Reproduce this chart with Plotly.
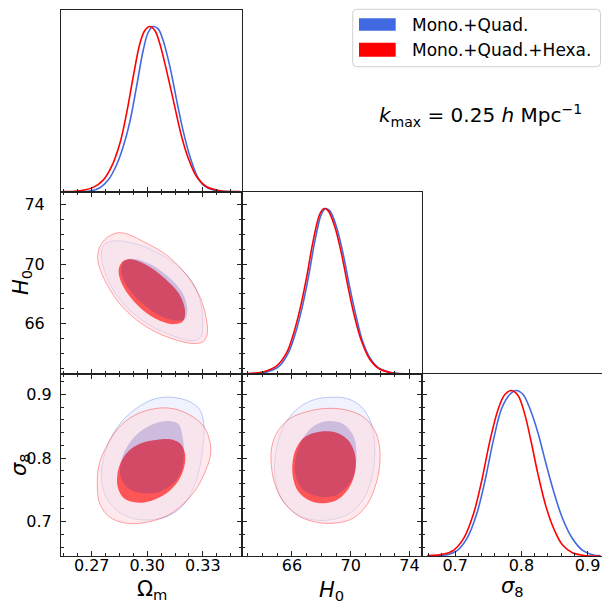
import plotly.graph_objects as go

# ---------------- data ----------------
# 1D marginals (normalised density)
om_blue_x = [0.2546, 0.2699, 0.2744, 0.2789, 0.2834, 0.2870, 0.2906, 0.2942, 0.2978, 0.3005, 0.3032,
             0.3059, 0.3086, 0.3123, 0.3159, 0.3195, 0.3231, 0.3267, 0.3303, 0.3357, 0.3447, 0.3510]
om_blue_p = [0.0, 0.008, 0.026, 0.072, 0.163, 0.273, 0.424, 0.635, 0.855, 0.964, 1.0,
             0.986, 0.916, 0.755, 0.554, 0.365, 0.213, 0.102, 0.042, 0.012, 0.002, 0.0]
om_red_x = [0.2546, 0.2636, 0.2708, 0.2762, 0.2807, 0.2852, 0.2888, 0.2924, 0.2960, 0.2987, 0.3014,
            0.3041, 0.3068, 0.3104, 0.3141, 0.3186, 0.3222, 0.3267, 0.3321, 0.3393, 0.3501]
om_red_p = [0.002, 0.008, 0.028, 0.072, 0.153, 0.293, 0.474, 0.695, 0.896, 0.976, 1.0,
            0.976, 0.896, 0.735, 0.554, 0.334, 0.203, 0.092, 0.032, 0.008, 0.002]

h0_blue_x = [62.95, 64.19, 65.09, 65.77, 66.22, 66.67, 67.12, 67.57, 68.02, 68.31, 68.58,
             69.03, 69.48, 69.93, 70.38, 70.79, 71.28, 71.85, 72.64, 74.21]
h0_blue_p = [0.0, 0.010, 0.044, 0.131, 0.242, 0.394, 0.586, 0.808, 0.970, 1.0, 0.986,
             0.889, 0.727, 0.525, 0.343, 0.202, 0.101, 0.040, 0.010, 0.0]
h0_red_x = [62.95, 64.08, 64.98, 65.65, 66.10, 66.55, 67.00, 67.45, 67.91, 68.20, 68.47,
            68.92, 69.37, 69.82, 70.27, 70.72, 71.28, 71.96, 72.86, 74.21]
h0_red_p = [0.002, 0.014, 0.051, 0.131, 0.242, 0.394, 0.586, 0.808, 0.970, 1.0, 0.986,
            0.889, 0.727, 0.525, 0.343, 0.202, 0.091, 0.030, 0.006, 0.0]

s8_blue_x = [0.6582, 0.6881, 0.7030, 0.7179, 0.7328, 0.7453, 0.7577, 0.7701, 0.7826, 0.7925,
             0.8025, 0.8124, 0.8249, 0.8373, 0.8498, 0.8622, 0.8771, 0.8920, 0.9070, 0.9194]
s8_blue_p = [0.0, 0.008, 0.032, 0.106, 0.257, 0.458, 0.699, 0.890, 0.976, 1.0,
             0.976, 0.896, 0.747, 0.556, 0.376, 0.227, 0.106, 0.036, 0.008, 0.002]
s8_red_x = [0.6582, 0.6831, 0.6980, 0.7129, 0.7279, 0.7403, 0.7527, 0.7652, 0.7751, 0.7851,
            0.7950, 0.8050, 0.8149, 0.8249, 0.8373, 0.8498, 0.8622, 0.8771, 0.8970, 0.9194]
s8_red_p = [0.002, 0.012, 0.036, 0.106, 0.257, 0.458, 0.699, 0.890, 0.976, 1.0,
            0.970, 0.859, 0.689, 0.498, 0.297, 0.157, 0.066, 0.020, 0.002, 0.0]

# 2D contours: Omega_m vs H0
omh0_blue95_x = [0.2753, 0.2771, 0.2825, 0.2924, 0.3032, 0.3159, 0.3249, 0.3290, 0.3299, 0.3294, 0.3267,
                 0.3213, 0.3104, 0.2996, 0.2888, 0.2807, 0.2762]
omh0_blue95_y = [70.84, 71.36, 71.56, 71.41, 70.91, 69.93, 68.68, 67.32, 65.96, 65.17, 64.88,
                 64.88, 65.33, 66.01, 67.10, 68.46, 69.82]
omh0_blue68_x = [0.2861, 0.2885, 0.2924, 0.3014, 0.3114, 0.3191, 0.3216, 0.3205, 0.3168, 0.3086,
                 0.2987, 0.2903, 0.2866]
omh0_blue68_y = [69.86, 70.27, 70.36, 70.00, 69.14, 68.05, 66.98, 66.30, 66.19, 66.42,
                 67.21, 68.28, 69.14]
omh0_red95_x = [0.2732, 0.2744, 0.2780, 0.2834, 0.2888, 0.2978, 0.3104, 0.3213, 0.3285, 0.3321, 0.3324,
                0.3303, 0.3249, 0.3159, 0.3050, 0.2942, 0.2852, 0.2780, 0.2741]
omh0_red95_y = [70.50, 71.18, 71.75, 72.09, 72.04, 71.52, 70.61, 69.25, 67.78, 66.19, 65.28,
                64.78, 64.65, 64.88, 65.40, 66.24, 67.32, 68.68, 69.82]
omh0_red68_x = [0.2847, 0.2870, 0.2915, 0.2996, 0.3095, 0.3177, 0.3204, 0.3195, 0.3150, 0.3068,
                0.2969, 0.2888, 0.2852]
omh0_red68_y = [69.71, 70.20, 70.32, 69.93, 69.02, 67.89, 66.87, 66.19, 65.96, 66.19,
                66.98, 68.12, 69.02]

# 2D contours: Omega_m vs sigma8
oms8_blue95_x = [0.3141, 0.3231, 0.3285, 0.3306, 0.3303, 0.3285, 0.3249, 0.3195, 0.3114, 0.3014,
                 0.2924, 0.2843, 0.2780, 0.2753, 0.2762, 0.2798, 0.2870, 0.2960, 0.3050]
oms8_blue95_y = [0.8952, 0.8884, 0.8754, 0.8518, 0.8230, 0.7864, 0.7524, 0.7262, 0.7089, 0.7027,
                 0.7048, 0.7158, 0.7367, 0.7655, 0.7969, 0.8283, 0.8597, 0.8816, 0.8937]
oms8_blue68_x = [0.3114, 0.3168, 0.3191, 0.3198, 0.3186, 0.3141, 0.3068, 0.2978, 0.2897, 0.2856,
                 0.2861, 0.2897, 0.2960, 0.3041]
oms8_blue68_y = [0.8581, 0.8534, 0.8335, 0.8073, 0.7812, 0.7602, 0.7471, 0.7445, 0.7524, 0.7707,
                 0.7969, 0.8204, 0.8413, 0.8544]
oms8_red95_x = [0.3050, 0.3141, 0.3231, 0.3306, 0.3339, 0.3342, 0.3317, 0.3267, 0.3195, 0.3104,
                0.2996, 0.2888, 0.2798, 0.2744, 0.2730, 0.2739, 0.2777, 0.2843, 0.2933]
oms8_red95_y = [0.8780, 0.8774, 0.8675, 0.8492, 0.8256, 0.8047, 0.7812, 0.7524, 0.7278, 0.7089,
                0.6990, 0.6974, 0.7069, 0.7278, 0.7576, 0.7890, 0.8167, 0.8466, 0.8675]
oms8_red68_x = [0.3050, 0.3123, 0.3177, 0.3204, 0.3200, 0.3168, 0.3104, 0.3023, 0.2942, 0.2874,
                0.2840, 0.2843, 0.2874, 0.2924, 0.2987]
oms8_red68_y = [0.8283, 0.8293, 0.8230, 0.8073, 0.7864, 0.7644, 0.7445, 0.7330, 0.7299, 0.7367,
                0.7550, 0.7812, 0.8021, 0.8167, 0.8251]

# 2D contours: H0 vs sigma8
h0s8_blue95_x = [68.47, 69.71, 70.72, 71.40, 71.62, 71.62, 71.40, 70.83, 69.93, 68.58, 67.23,
                 66.10, 65.20, 64.82, 64.98, 65.54, 66.55, 67.57]
h0s8_blue95_y = [0.8952, 0.8937, 0.8806, 0.8544, 0.8230, 0.7969, 0.7655, 0.7341, 0.7131, 0.7027, 0.7037,
                 0.7158, 0.7393, 0.7759, 0.8178, 0.8544, 0.8806, 0.8921]
h0s8_blue68_x = [68.54, 69.48, 70.16, 70.38, 70.34, 69.93, 69.03, 67.91, 66.78, 66.22, 66.33, 66.89, 67.68]
h0s8_blue68_y = [0.8581, 0.8534, 0.8361, 0.8126, 0.7864, 0.7602, 0.7419, 0.7393, 0.7498, 0.7759,
                 0.8073, 0.8361, 0.8529]
h0s8_red95_x = [65.88, 67.00, 68.36, 69.71, 70.83, 71.62, 71.96, 71.96, 71.73, 71.17, 70.16, 68.81,
                67.45, 66.33, 65.43, 64.82, 64.57, 64.68, 65.09]
h0s8_red95_y = [0.8623, 0.8727, 0.8780, 0.8754, 0.8649, 0.8440, 0.8178, 0.7864, 0.7602, 0.7288, 0.7053,
                0.6974, 0.7001, 0.7105, 0.7314, 0.7602, 0.7969, 0.8230, 0.8440]
h0s8_red68_x = [67.91, 69.03, 69.82, 70.27, 70.32, 69.93, 69.14, 68.24, 67.23, 66.44, 66.06, 66.10,
                66.55, 67.12]
h0s8_red68_y = [0.8413, 0.8398, 0.8283, 0.8073, 0.7812, 0.7550, 0.7351, 0.7288, 0.7330, 0.7471,
                0.7707, 0.8021, 0.8256, 0.8361]

labels = ["Mono.+Quad.", "Mono.+Quad.+Hexa."]
om_range = [0.2534, 0.3512]
h0_range = [62.6, 74.85]
s8_range_v = [0.646, 0.932]
s8_range_h = [0.650, 0.921]
dens_range = [0, 1.1]

# ---------------- styling ----------------
W, H = 602, 604
BLUE = "#4169E1"
RED = "#FF0000"
AX = "#222222"
FONT = "DejaVu Sans"

def px_x(x):
    return x / W

def px_y(y):
    return 1 - y / H

cols = [[px_x(61), px_x(242)], [px_x(242), px_x(422)], [px_x(422), px_x(601.5)]]
rows = [[px_y(192), px_y(10)], [px_y(374), px_y(192)], [px_y(556), px_y(374)]]

fig = go.Figure()

def closed(a):
    return list(a) + [a[0]]

def contour(xs, ys, ax, fill, line, width):
    fig.add_trace(go.Scatter(x=closed(xs), y=closed(ys), xaxis=ax[0], yaxis=ax[1], mode="lines",
                             fill="toself", fillcolor=fill,
                             line=dict(color=line, width=width, shape="spline", smoothing=1.0),
                             hoverinfo="skip", showlegend=False))

def panel2d(ax, r95, r68, b95, b68):
    contour(*b95, ax, "rgba(65,105,225,0.08)", "rgba(65,105,225,0.35)", 1)
    contour(*r95, ax, "rgba(255,215,222,0.55)", "rgba(255,0,0,0.35)", 1)
    contour(*r68, ax, "rgba(255,60,60,0.85)", "rgba(255,60,60,0.0)", 0.5)
    contour(*b68, ax, "rgba(40,30,170,0.2)", "rgba(40,30,170,0.0)", 0.5)

panel2d(("x2", "y2"), (omh0_red95_x, omh0_red95_y), (omh0_red68_x, omh0_red68_y),
        (omh0_blue95_x, omh0_blue95_y), (omh0_blue68_x, omh0_blue68_y))
panel2d(("x4", "y4"), (oms8_red95_x, oms8_red95_y), (oms8_red68_x, oms8_red68_y),
        (oms8_blue95_x, oms8_blue95_y), (oms8_blue68_x, oms8_blue68_y))
panel2d(("x5", "y5"), (h0s8_red95_x, h0s8_red95_y), (h0s8_red68_x, h0s8_red68_y),
        (h0s8_blue95_x, h0s8_blue95_y), (h0s8_blue68_x, h0s8_blue68_y))

def line1d(xs, ps, ax, color):
    fig.add_trace(go.Scatter(x=xs, y=ps, xaxis=ax[0], yaxis=ax[1], mode="lines",
                             line=dict(color=color, width=1.6, shape="spline", smoothing=1.0),
                             hoverinfo="skip", showlegend=False))

line1d(om_blue_x, om_blue_p, ("x1", "y1"), BLUE)
line1d(om_red_x, om_red_p, ("x1", "y1"), RED)
line1d(h0_blue_x, h0_blue_p, ("x3", "y3"), BLUE)
line1d(h0_red_x, h0_red_p, ("x3", "y3"), RED)
line1d(s8_blue_x, s8_blue_p, ("x6", "y6"), BLUE)
line1d(s8_red_x, s8_red_p, ("x6", "y6"), RED)

tickfont = dict(family=FONT, size=16, color="black")
XSTAND = -5

def base(domain, rng, anchor, mirror, **kw):
    d = dict(domain=domain, range=rng, anchor=anchor, showline=True, linecolor=AX, linewidth=1,
             mirror=mirror, showgrid=False, zeroline=False, ticks="inside", tickcolor=AX,
             tickwidth=1, ticklen=5, tickfont=tickfont)
    d.update(kw)
    return d

def om_axis(domain, anchor, mirror, labels_on):
    return base(domain, om_range, anchor, mirror, tickmode="linear", tick0=0.27, dtick=0.03,
                tickformat=".2f", showticklabels=labels_on, ticklabelstandoff=XSTAND,
                minor=dict(ticks="inside", tick0=0.27, dtick=0.0075, ticklen=3, tickcolor=AX, tickwidth=1))

def h0_axis(domain, anchor, mirror, labels_on, standoff=XSTAND):
    return base(domain, h0_range, anchor, mirror, tickmode="linear", tick0=66, dtick=4,
                showticklabels=labels_on, ticklabelstandoff=standoff,
                minor=dict(ticks="inside", tick0=66, dtick=1, ticklen=3, tickcolor=AX, tickwidth=1))

def s8_axis(domain, rng, anchor, mirror, labels_on, standoff=XSTAND):
    return base(domain, rng, anchor, mirror, tickmode="linear", tick0=0.7, dtick=0.1,
                tickformat=".1f", showticklabels=labels_on, ticklabelstandoff=standoff,
                minor=dict(ticks="inside", tick0=0.7, dtick=0.02, ticklen=3, tickcolor=AX, tickwidth=1))

def dens_axis(domain, anchor):
    return dict(domain=domain, range=dens_range, anchor=anchor, showline=True, linecolor=AX, linewidth=1,
                mirror=True, showgrid=False, zeroline=False, ticks="", showticklabels=False)

layout = dict(
    width=W, height=H, margin=dict(l=0, r=0, t=0, b=0),
    paper_bgcolor="white", plot_bgcolor="rgba(0,0,0,0)", showlegend=False,
    font=dict(family=FONT, color="black"),
    xaxis=om_axis(cols[0], "y", True, False),
    yaxis=dens_axis(rows[0], "x"),
    xaxis2=om_axis(cols[0], "y2", "allticks", False),
    yaxis2=h0_axis(rows[1], "x2", "allticks", True, standoff=12),
    xaxis3=h0_axis(cols[1], "y3", True, False),
    yaxis3=dens_axis(rows[1], "x3"),
    xaxis4=om_axis(cols[0], "y4", "allticks", True),
    yaxis4=s8_axis(rows[2], s8_range_v, "x4", "allticks", True, standoff=5),
    xaxis5=h0_axis(cols[1], "y5", "allticks", True),
    yaxis5=s8_axis(rows[2], s8_range_v, "x5", "allticks", False),
    xaxis6=s8_axis(cols[2], s8_range_h, "y6", True, True),
    yaxis6=dens_axis(rows[2], "x6"),
)
# overlay axes giving the crossing ticks on the diagonal panels' left edges
layout["yaxis7"] = dict(range=h0_range, overlaying="y3", anchor="x3", side="left", showline=False,
                        showgrid=False, zeroline=False, ticks="inside", tickcolor=AX, tickwidth=1, ticklen=5,
                        showticklabels=False, tickmode="linear", tick0=66, dtick=4,
                        minor=dict(ticks="inside", tick0=66, dtick=1, ticklen=3, tickcolor=AX, tickwidth=1))
layout["yaxis8"] = dict(range=s8_range_v, overlaying="y6", anchor="x6", side="left", showline=False,
                        showgrid=False, zeroline=False, ticks="inside", tickcolor=AX, tickwidth=1, ticklen=5,
                        showticklabels=False, tickmode="linear", tick0=0.7, dtick=0.1,
                        minor=dict(ticks="inside", tick0=0.7, dtick=0.02, ticklen=3, tickcolor=AX, tickwidth=1))
fig.update_layout(**layout)
fig.add_trace(go.Scatter(x=[h0_range[0]], y=[h0_range[0]], xaxis="x3", yaxis="y7", mode="markers",
                         marker=dict(opacity=0), hoverinfo="skip", showlegend=False))
fig.add_trace(go.Scatter(x=[s8_range_h[0]], y=[s8_range_v[0]], xaxis="x6", yaxis="y8", mode="markers",
                         marker=dict(opacity=0), hoverinfo="skip", showlegend=False))

title_font = dict(family=FONT, size=21, color="black")
ann = []
ann.append(dict(text="Ω<sub>m</sub>", x=px_x(151.5), y=px_y(590), xref="paper", yref="paper",
                showarrow=False, font=title_font, xanchor="center", yanchor="middle"))
ann.append(dict(text="<i>H</i><sub>0</sub>", x=px_x(332), y=px_y(591), xref="paper", yref="paper",
                showarrow=False, font=title_font, xanchor="center", yanchor="middle"))
ann.append(dict(text="<i>σ</i><sub>8</sub>", x=px_x(512), y=px_y(587), xref="paper", yref="paper",
                showarrow=False, font=title_font, xanchor="center", yanchor="middle"))
ann.append(dict(text="<i>H</i><sub>0</sub>", x=px_x(22), y=px_y(283), xref="paper", yref="paper",
                showarrow=False, font=title_font, xanchor="center", yanchor="middle", textangle=-90))
ann.append(dict(text="<i>σ</i><sub>8</sub>", x=px_x(20), y=px_y(465), xref="paper", yref="paper",
                showarrow=False, font=title_font, xanchor="center", yanchor="middle", textangle=-90))
ann.append(dict(text="<i>k</i><sub>max</sub> = 0.25 <i>h</i> Mpc<sup>−1</sup>", x=px_x(480), y=px_y(116),
                xref="paper", yref="paper", showarrow=False, font=dict(family=FONT, size=20, color="black"),
                xanchor="center", yanchor="middle"))
leg_font = dict(family=FONT, size=17, color="black")
ann.append(dict(text=labels[0], x=px_x(410), y=px_y(25), xref="paper", yref="paper", showarrow=False,
                font=leg_font, xanchor="left", yanchor="middle"))
ann.append(dict(text=labels[1], x=px_x(410), y=px_y(49.7), xref="paper", yref="paper", showarrow=False,
                font=leg_font, xanchor="left", yanchor="middle"))
fig.update_layout(annotations=ann)

# legend frame and patches
x0, x1, y0, y1, r = 352.7, 600.5, 9.3, 66.7, 4
path = (f"M{px_x(x0 + r)},{px_y(y0)} L{px_x(x1 - r)},{px_y(y0)} Q{px_x(x1)},{px_y(y0)} {px_x(x1)},{px_y(y0 + r)} "
        f"L{px_x(x1)},{px_y(y1 - r)} Q{px_x(x1)},{px_y(y1)} {px_x(x1 - r)},{px_y(y1)} "
        f"L{px_x(x0 + r)},{px_y(y1)} Q{px_x(x0)},{px_y(y1)} {px_x(x0)},{px_y(y1 - r)} "
        f"L{px_x(x0)},{px_y(y0 + r)} Q{px_x(x0)},{px_y(y0)} {px_x(x0 + r)},{px_y(y0)} Z")
shapes = [
    dict(type="path", path=path, xref="paper", yref="paper", line=dict(color="#d0d0d0", width=1),
         fillcolor="rgba(255,255,255,0.8)"),
    dict(type="rect", xref="paper", yref="paper", x0=px_x(359), x1=px_x(395.7), y0=px_y(30.7), y1=px_y(18.3),
         fillcolor=BLUE, line=dict(width=0)),
    dict(type="rect", xref="paper", yref="paper", x0=px_x(359), x1=px_x(395.7), y0=px_y(56.7), y1=px_y(42.7),
         fillcolor=RED, line=dict(width=0)),
]
fig.update_layout(shapes=shapes)

fig.write_html("out.html", config={"displayModeBar": False},
               post_script="document.body.style.margin='0px';document.body.style.padding='0px';")
